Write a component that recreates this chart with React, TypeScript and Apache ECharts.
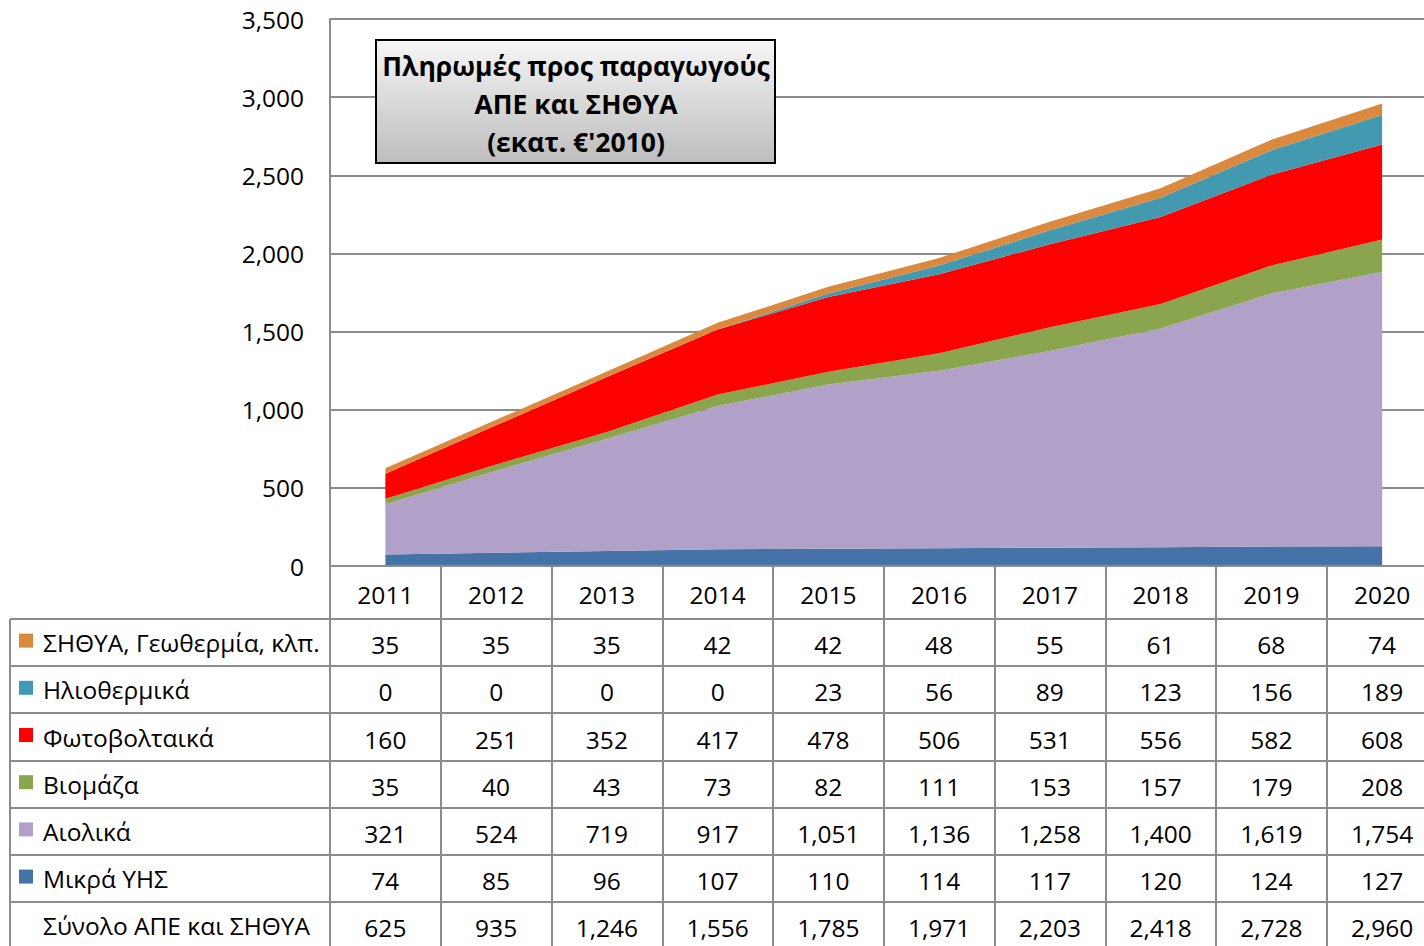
import React, { useEffect, useRef } from "react";
import * as echarts from "echarts";

const years = ["2011", "2012", "2013", "2014", "2015", "2016", "2017", "2018", "2019", "2020"];
const yTicks = [0, 500, 1000, 1500, 2000, 2500, 3000, 3500];

const chpName = "ΣΗΘΥΑ, Γεωθερμία, κλπ.";
const solarThermalName = "Ηλιοθερμικά";
const pvName = "Φωτοβολταικά";
const biomassName = "Βιομάζα";
const windName = "Αιολικά";
const hydroName = "Μικρά ΥΗΣ";
const totalName = "Σύνολο ΑΠΕ και ΣΗΘΥΑ";

const chp = [35, 35, 35, 42, 42, 48, 55, 61, 68, 74];
const solarThermal = [0, 0, 0, 0, 23, 56, 89, 123, 156, 189];
const pv = [160, 251, 352, 417, 478, 506, 531, 556, 582, 608];
const biomass = [35, 40, 43, 73, 82, 111, 153, 157, 179, 208];
const wind = [321, 524, 719, 917, 1051, 1136, 1258, 1400, 1619, 1754];
const smallHydro = [74, 85, 96, 107, 110, 114, 117, 120, 124, 127];
const totals = [625, 935, 1246, 1556, 1785, 1971, 2203, 2418, 2728, 2960];

const titleLines = ["Πληρωμές προς παραγωγούς", "ΑΠΕ και ΣΗΘΥΑ", "(εκατ. €'2010)"];

const FONT = "'Open Sans', 'Noto Sans', sans-serif";
const FS = 24.5;
const CHART_W = 1450;
const GRID_LEFT = 330;
const GRID_TOP = 19;
const GRID_H = 547;
const GRID_W = 1107.5;
const COL_W = GRID_W / years.length;
const LINE_C = "#8c8c8c";

const seriesDefs = [
  { name: hydroName, data: smallHydro, color: "#4572A7" },
  { name: windName, data: wind, color: "#B1A0C7" },
  { name: biomassName, data: biomass, color: "#8BA54E" },
  { name: pvName, data: pv, color: "#FF0000" },
  { name: solarThermalName, data: solarThermal, color: "#4299B0" },
  { name: chpName, data: chp, color: "#DA893F" },
];

const fmt = (v: number) => v.toLocaleString("en-US");

export default function App() {
  const ref = useRef<HTMLDivElement>(null);
  useEffect(() => {
    if (!ref.current) return;
    const chart = echarts.init(ref.current, null, { renderer: "svg" });

    const tableTop = GRID_TOP + GRID_H + 53; // 619
    const rowH = 47.2;
    const tableRows = [
      { name: chpName, data: chp, color: "#DA893F" },
      { name: solarThermalName, data: solarThermal, color: "#4299B0" },
      { name: pvName, data: pv, color: "#FF0000" },
      { name: biomassName, data: biomass, color: "#8BA54E" },
      { name: windName, data: wind, color: "#B1A0C7" },
      { name: hydroName, data: smallHydro, color: "#4572A7" },
      { name: totalName, data: totals, color: null as string | null },
    ];

    const graphics: any[] = [];
    for (let r = 0; r <= tableRows.length; r++) {
      const y = Math.round(tableTop + r * rowH);
      graphics.push({
        type: "line",
        shape: { x1: 10, y1: y, x2: CHART_W, y2: y },
        style: { stroke: LINE_C, lineWidth: 2 },
        z: 10,
      });
    }
    graphics.push({
      type: "line",
      shape: { x1: 10, y1: tableTop, x2: 10, y2: 946 },
      style: { stroke: LINE_C, lineWidth: 2 },
      z: 10,
    });
    tableRows.forEach((row, r) => {
      const cy = tableTop + (r + 0.5) * rowH;
      if (row.color) {
        graphics.push({
          type: "rect",
          shape: { x: 19, y: cy - 9, width: 14, height: 14 },
          style: { fill: row.color },
          z: 10,
        });
      }
      graphics.push({
        type: "text",
        x: 43,
        y: cy,
        style: {
          text: row.name,
          font: `${FS}px ${FONT}`,
          fill: "#000",
          verticalAlign: "middle",
          align: "left",
        },
        z: 10,
      });
      row.data.forEach((v, i) => {
        graphics.push({
          type: "text",
          x: GRID_LEFT + (i + 0.5) * COL_W,
          y: cy + 2,
          style: {
            text: fmt(v),
            font: `${FS}px ${FONT}`,
            fill: "#000",
            align: "center",
            verticalAlign: "middle",
          },
          z: 10,
        });
      });
    });

    graphics.push({
      type: "rect",
      shape: { x: 376, y: 40, width: 399, height: 123 },
      style: {
        fill: new echarts.graphic.LinearGradient(0, 0, 0, 1, [
          { offset: 0, color: "#f6f6f6" },
          { offset: 1, color: "#bdbdbd" },
        ]),
        stroke: "#000",
        lineWidth: 2,
      },
      z: 20,
    });
    titleLines.forEach((t, k) => {
      graphics.push({
        type: "text",
        x: 576,
        y: 66 + k * 38,
        style: {
          text: t,
          font: `bold 26.5px ${FONT}`,
          fill: "#000",
          align: "center",
          verticalAlign: "middle",
        },
        z: 21,
      });
    });

    chart.setOption({
      animation: false,
      backgroundColor: "#fff",
      grid: {
        left: GRID_LEFT,
        top: GRID_TOP,
        width: GRID_W,
        height: GRID_H,
        containLabel: false,
      },
      xAxis: {
        type: "category",
        data: years,
        boundaryGap: true,
        axisLine: { show: true, lineStyle: { color: LINE_C, width: 2 } },
        axisTick: { show: true, length: 380, lineStyle: { color: LINE_C, width: 2 } },
        axisLabel: {
          show: true,
          margin: 28,
          verticalAlign: "middle",
          fontFamily: FONT,
          fontSize: FS,
          color: "#000",
        },
        z: 5,
      },
      yAxis: {
        type: "value",
        min: 0,
        max: 3500,
        interval: 500,
        axisLine: { show: true, lineStyle: { color: LINE_C, width: 2 } },
        axisTick: { show: false },
        splitLine: { show: true, lineStyle: { color: LINE_C, width: 2 } },
        axisLabel: {
          margin: 26,
          fontFamily: FONT,
          fontSize: FS,
          color: "#000",
          formatter: (v: number) => (yTicks.includes(v) ? fmt(v) : ""),
        },
      },
      series: seriesDefs.map((s) => ({
        name: s.name,
        type: "line",
        stack: "total",
        data: s.data,
        symbol: "none",
        lineStyle: { width: 0 },
        areaStyle: { color: s.color, opacity: 1 },
        itemStyle: { color: s.color },
      })),
      graphic: graphics,
    });
    return () => chart.dispose();
  }, []);
  return (
    <div
      style={{ position: "fixed", left: 0, top: 0, width: 1424, height: 946, overflow: "hidden", background: "#fff" }}
    >
      <div ref={ref} style={{ width: CHART_W, height: 946 }} />
    </div>
  );
}
